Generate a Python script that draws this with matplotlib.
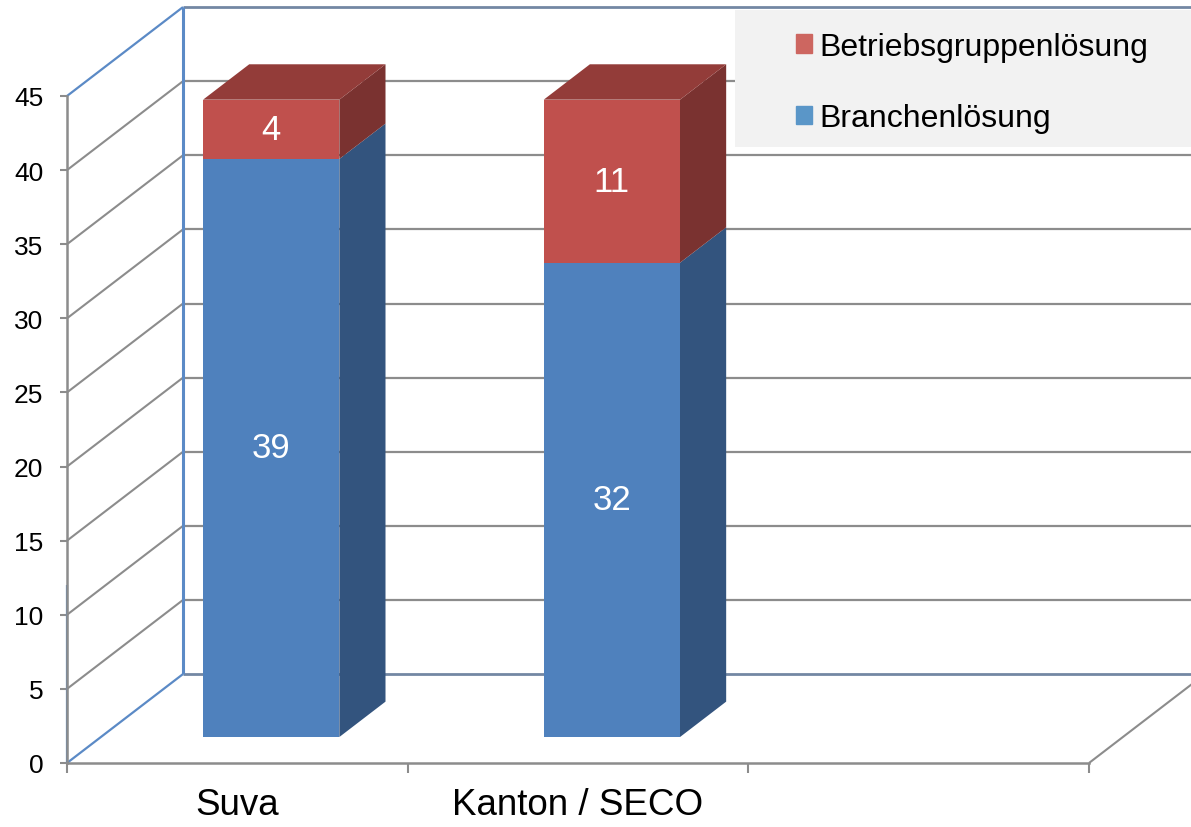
import matplotlib.pyplot as plt
from matplotlib.patches import Polygon, Rectangle, Patch

plt.rcParams['font.family'] = ['Liberation Sans', 'DejaVu Sans']

categories = ["Suva", "Kanton / SECO"]
branche = [39, 32]
betrieb = [4, 11]
series_names = ["Branchenlösung", "Betriebsgruppenlösung"]
yticks = [0, 5, 10, 15, 20, 25, 30, 35, 40, 45]

# colours (front, side, top)
blue = ('#4f81bd', '#33547e', '#3f6797')
red = ('#c0504d', '#7a3230', '#933c39')
grid_c = '#8c8c8c'
edge_c = '#5b8ac6'
wall_c = '#7387a3'

# oblique depth: full wall depth in data units
DX, DV = 0.3405, 6.0
d0, d1 = 0.292, 0.69  # bar front / back depth fraction
width = 0.4
ncat = 3
ymax = 45

fig = plt.figure(figsize=(11.91, 8.28), dpi=100)
ax = fig.add_axes([67 / 1191, 64 / 828, 1022 / 1191, 667 / 828])
ax.set_xlim(0, ncat)
ax.set_ylim(0, ymax)


def line(xs, ys, **kw):
    ax.plot(xs, ys, clip_on=False, solid_capstyle='butt', **kw)


# back wall gridlines and side wall diagonals
for t in yticks[1:-1]:
    line([DX, ncat + DX + 1], [t + DV, t + DV], color=grid_c, lw=1.6, zorder=1)
    line([0, DX], [t, t + DV], color=grid_c, lw=1.5, zorder=1)
line([DX, ncat + DX + 1], [ymax + DV, ymax + DV], color=wall_c, lw=2, zorder=1)
line([DX, ncat + DX + 1], [DV, DV], color=wall_c, lw=2, zorder=1)
line([DX, DX], [DV, ymax + DV], color=edge_c, lw=2.2, zorder=1)
line([0, DX], [0, DV], color=edge_c, lw=1.6, zorder=1)
line([0, DX], [ymax, ymax + DV], color=edge_c, lw=1.6, zorder=1)
line([0, 0], [0, 12], color=edge_c, lw=1.6, zorder=2)
line([ncat, ncat + DX], [0, DV], color=grid_c, lw=1.5, zorder=1)

# stacked 3D bars
xc = [i + 0.5 for i in range(len(categories))]
for i, x in enumerate(xc):
    bottom = 0
    stack = [(branche[i], blue), (betrieb[i], red)]
    for k, (val, col) in enumerate(stack):
        xl = x - width / 2 + d0 * DX
        yb = bottom + d0 * DV
        ax.bar(xl, val, width=width, bottom=yb, align='edge', color=col[0],
               linewidth=0, zorder=3)
        xr = xl + width
        sdx, sdv = (d1 - d0) * DX, (d1 - d0) * DV
        side = Polygon([(xr, yb), (xr + sdx, yb + sdv), (xr + sdx, yb + val + sdv),
                        (xr, yb + val)], closed=True, facecolor=col[1],
                       edgecolor='none', clip_on=False, zorder=3)
        ax.add_patch(side)
        if k == len(stack) - 1:
            top = Polygon([(xl, yb + val), (xl + sdx, yb + val + sdv),
                           (xr + sdx, yb + val + sdv), (xr, yb + val)], closed=True,
                          facecolor=col[2], edgecolor='none', clip_on=False, zorder=3)
            ax.add_patch(top)
        ax.text(xl + width / 2, yb + val / 2, str(val), color='white', fontsize=25,
                ha='center', va='center', zorder=4)
        bottom += val

# axes styling
for s in ['top', 'right']:
    ax.spines[s].set_visible(False)
for s in ['left', 'bottom']:
    ax.spines[s].set_color(grid_c)
    ax.spines[s].set_linewidth(1.8)
ax.set_yticks(yticks)
ax.tick_params(axis='y', length=5, width=1.5, color=grid_c, labelsize=19, pad=12)
ax.set_xticks(range(ncat + 1))
ax.set_xticklabels([])
ax.set_xticks(xc, minor=True)
ax.set_xticklabels(categories, minor=True, fontsize=26.5)
ax.tick_params(axis='x', which='major', length=7, width=1.5, color=grid_c)
ax.tick_params(axis='x', which='minor', length=0, pad=17)

# legend
fig.patches.append(Rectangle((735 / 1191, 1 - 148 / 828), 460 / 1191, 137 / 828,
                             transform=fig.transFigure, facecolor='#f2f2f2',
                             edgecolor='none', zorder=5))
handles = [Patch(color='#cd6660', label=series_names[1]),
           Patch(color='#5a96c8', label=series_names[0])]
fig.legend(handles=handles, loc='upper left', bbox_to_anchor=(767 / 1191, 1 - 4 / 828),
           frameon=False, fontsize=23, handlelength=0.5, handleheight=0.5,
           handletextpad=0.25, labelspacing=1.3)

fig.savefig("out.png", dpi=100)
